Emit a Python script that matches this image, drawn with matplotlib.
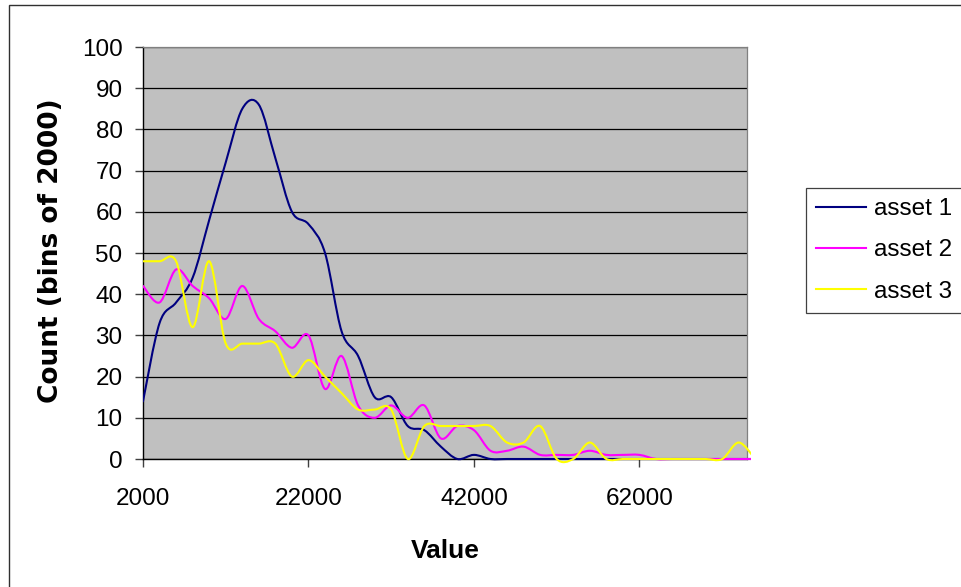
import numpy as np
import matplotlib
matplotlib.use("Agg")
import matplotlib.pyplot as plt
from matplotlib.path import Path
from matplotlib.patches import PathPatch, Rectangle
from matplotlib.lines import Line2D

# ---- data (bins of 2000) ----
bins = list(range(2000, 78000, 2000))
asset1 = [14, 33, 38, 44, 58, 72, 85, 86, 73, 60, 57, 50, 31, 25, 15, 15, 8, 7, 3, 0,
          1, 0, 0, 0, 0, 0, 0, 0, 0, 0, 0, 0, 0, 0, 0, 0, 0, 0]
asset2 = [42, 38, 46, 42, 39, 34, 42, 34, 31, 27, 30, 17, 25, 13, 10, 13, 10, 13, 5, 8,
          7, 2, 2, 3, 1, 1, 1, 2, 1, 1, 1, 0, 0, 0, 0, 0, 0, 0]
asset3 = [48, 48, 48, 32, 48, 28, 28, 28, 28, 20, 24, 20, 16, 12, 12, 12, 0, 8, 8, 8,
          8, 8, 4, 4, 8, 0, 0, 4, 0, 0, 0, 0, 0, 0, 0, 0, 4, 0]
series_names = ["asset 1", "asset 2", "asset 3"]
series_colors = ["#000080", "#FF00FF", "#FFFF00"]
x_ticks = [2000, 22000, 42000, 62000]
y_ticks = list(range(0, 101, 10))

plt.rcParams["font.family"] = ["Liberation Sans", "DejaVu Sans"]

W, H = 961, 587
fig = plt.figure(figsize=(W / 100, H / 100), dpi=100)
fig.patch.set_facecolor("white")

# outer chart border
fig.add_artist(Rectangle((8.5 / W, -0.05), 1.2, 1 - 5 / H + 0.05,
                         transform=fig.transFigure, fill=False,
                         edgecolor="#303030", lw=1.0))

ax = fig.add_axes([143 / W, (H - 459) / H, 604 / W, 412 / H])
ax.set_facecolor("#C0C0C0")
ax.set_xlim(2000, 75000)
ax.set_ylim(0, 100)


def smooth_path(xs, ys):
    P = np.column_stack([xs, ys]).astype(float)
    n = len(P)
    verts = [P[0]]
    codes = [Path.MOVETO]
    for i in range(n - 1):
        p0 = P[i - 1] if i > 0 else P[i]
        p1 = P[i]
        p2 = P[i + 1]
        p3 = P[i + 2] if i + 2 < n else P[i + 1]
        verts += [p1 + (p2 - p0) / 6.0, p2 - (p3 - p1) / 6.0, p2]
        codes += [Path.CURVE4] * 3
    return Path(verts, codes)


clip_rect = Rectangle((0, -0.012), 1.006, 1.03, transform=ax.transAxes)
handles = []
for vals, name, col in zip([asset1, asset2, asset3], series_names, series_colors):
    patch = PathPatch(smooth_path(bins, vals), facecolor="none", edgecolor=col,
                      lw=1.5, joinstyle="round", capstyle="round", zorder=3)
    ax.add_patch(patch)
    patch.set_clip_path(clip_rect)
    handles.append(Line2D([], [], color=col, lw=1.5, label=name))

# grid & axes styling
ax.set_yticks(y_ticks)
ax.set_xticks(x_ticks)
ax.set_xticklabels([str(v) for v in x_ticks])
ax.yaxis.grid(True, color="black", lw=0.9)
ax.set_axisbelow(True)
for s in ["top", "right"]:
    ax.spines[s].set_color("#808080")
    ax.spines[s].set_linewidth(0.9)
for s in ["left", "bottom"]:
    ax.spines[s].set_color("#000000")
    ax.spines[s].set_linewidth(1.0)
ax.tick_params(axis="y", direction="out", length=5.8, width=1.0, color="#404040",
               labelsize=17.5, pad=8.9)
ax.tick_params(axis="x", direction="out", length=5.8, width=1.0, color="#404040",
               labelsize=17.5, pad=14.8)

ax.set_xlabel("Value", fontsize=19, fontweight="bold", va="center")
ax.xaxis.set_label_coords(0.5, (459 - 551) / 412)
ax.set_ylabel("Count (bins of 2000)", fontsize=19, fontweight="bold", va="center",
              family=["DejaVu Sans"])
ax.yaxis.set_label_coords((51 - 143) / 604, (459 - 251) / 412)

leg = ax.legend(handles=handles, loc="upper left",
                bbox_to_anchor=(806 / W, (H - 188) / H), bbox_transform=fig.transFigure,
                borderaxespad=0, fontsize=17.5, frameon=True, fancybox=False,
                handlelength=2.06, handletextpad=0.3, labelspacing=0.79,
                borderpad=0.42)
leg.get_frame().set_edgecolor("#404040")
leg.get_frame().set_linewidth(0.9)
leg.get_frame().set_facecolor("white")
leg.get_frame().set_alpha(1)

fig.savefig("out.png", dpi=100, facecolor="white")
